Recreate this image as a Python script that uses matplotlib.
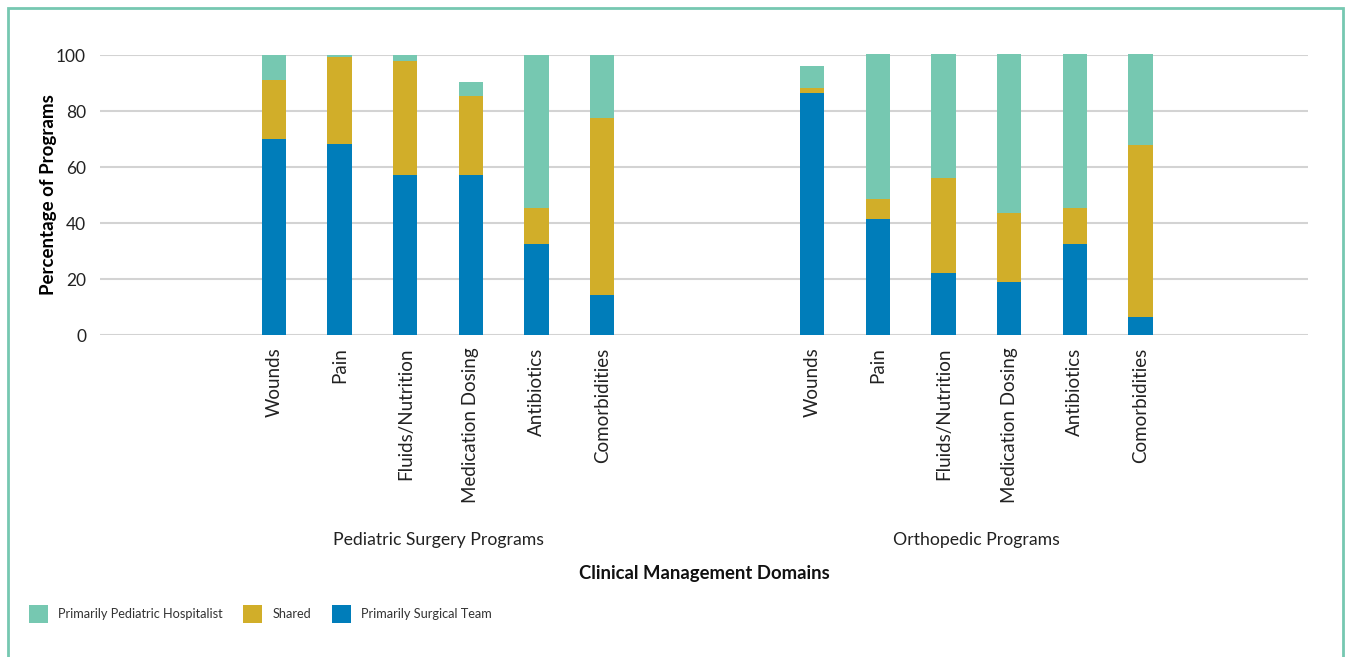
import numpy as np
import matplotlib.pyplot as plt
from matplotlib.patches import Rectangle

plt.rcParams['font.family'] = ['Lato', 'DejaVu Sans']

# Clinical management domains, same order in both groups
dominios = ['Wounds', 'Pain', 'Fluids/Nutrition', 'Medication Dosing',
            'Antibiotics', 'Comorbidities']
grupos = ['Pediatric Surgery Programs', 'Orthopedic Programs']

# Stacked segment sizes (percent), bottom to top
ped_cirugia = [70.0, 68.3, 57.2, 57.2, 32.6, 14.4]
ped_compartido = [21.2, 31.0, 40.7, 28.3, 12.9, 63.2]
ped_hospitalista = [8.8, 0.7, 2.1, 4.9, 54.5, 22.4]

orto_cirugia = [86.4, 41.5, 22.2, 19.0, 32.6, 6.3]
orto_compartido = [1.9, 6.9, 34.0, 24.4, 12.9, 61.6]
orto_hospitalista = [7.8, 52.0, 44.2, 57.0, 54.9, 32.5]

series = ['Primarily Pediatric Hospitalist', 'Shared', 'Primarily Surgical Team']
colores = {'Primarily Pediatric Hospitalist': '#76C8B1',
           'Shared': '#D1AE29',
           'Primarily Surgical Team': '#007DBA'}

W, H = 1347, 657
fig = plt.figure(figsize=(W / 100, H / 100), dpi=100)
ax = fig.add_axes([100 / W, (H - 335) / H, 1208 / W, 280 / H])

x_ped = np.arange(len(dominios))
x_orto = x_ped + 8.2
x = np.concatenate([x_ped, x_orto])

cirugia = np.array(ped_cirugia + orto_cirugia)
compartido = np.array(ped_compartido + orto_compartido)
hospitalista = np.array(ped_hospitalista + orto_hospitalista)

ancho = 0.37
b1 = ax.bar(x, cirugia, ancho, color=colores['Primarily Surgical Team'], zorder=3)
b2 = ax.bar(x, compartido, ancho, bottom=cirugia, color=colores['Shared'], zorder=3)
b3 = ax.bar(x, hospitalista, ancho, bottom=cirugia + compartido,
            color=colores['Primarily Pediatric Hospitalist'], zorder=3)
for cont in (b1, b2, b3):
    for p in cont:
        p.set_clip_on(False)

ax.set_xlim(-2.65, 15.75)
ax.set_ylim(0, 100)
ax.set_yticks([0, 20, 40, 60, 80, 100])
ax.grid(axis='y', color='#d3d3d3', linewidth=1.5, zorder=0)
ax.set_axisbelow(True)
for s in ax.spines.values():
    s.set_visible(False)
ax.tick_params(axis='y', length=0, pad=10, labelsize=12.5, labelcolor='#222222')
ax.tick_params(axis='x', length=0, pad=9, labelsize=13.5, labelcolor='#222222')
ax.set_xticks(x)
ax.set_xticklabels(dominios * 2, rotation=90, va='top')

ax.set_ylabel('Percentage of Programs', fontsize=13.5, fontweight='bold', labelpad=-1)

# group labels and the axis title
tr = ax.get_xaxis_transform()
for xs, g in zip([x_ped, x_orto], grupos):
    ax.text(xs.mean(), -205 / 280, g, transform=tr, ha='center', va='center',
            fontsize=12.7, color='#222222')
ax.text(0.5, -238 / 280, 'Clinical Management Domains', transform=ax.transAxes,
        ha='center', va='center', fontsize=13.3, fontweight='bold', color='#111111')

leg = fig.legend(handles=[b3, b2, b1], labels=series, ncol=3, loc='center left',
                 bbox_to_anchor=(17 / W, (H - 614) / H), frameon=False,
                 fontsize=9.2, handlelength=1.5, handleheight=1.85,
                 handletextpad=0.8, columnspacing=1.6, labelcolor='#333333')

# outer frame
fig.patches.append(Rectangle((8 / W, -0.05), (1343 - 8) / W, (H - 8) / H + 0.05,
                             transform=fig.transFigure, fill=False,
                             edgecolor='#76C8B1', linewidth=2, zorder=0))

fig.savefig('out.png', dpi=100)
